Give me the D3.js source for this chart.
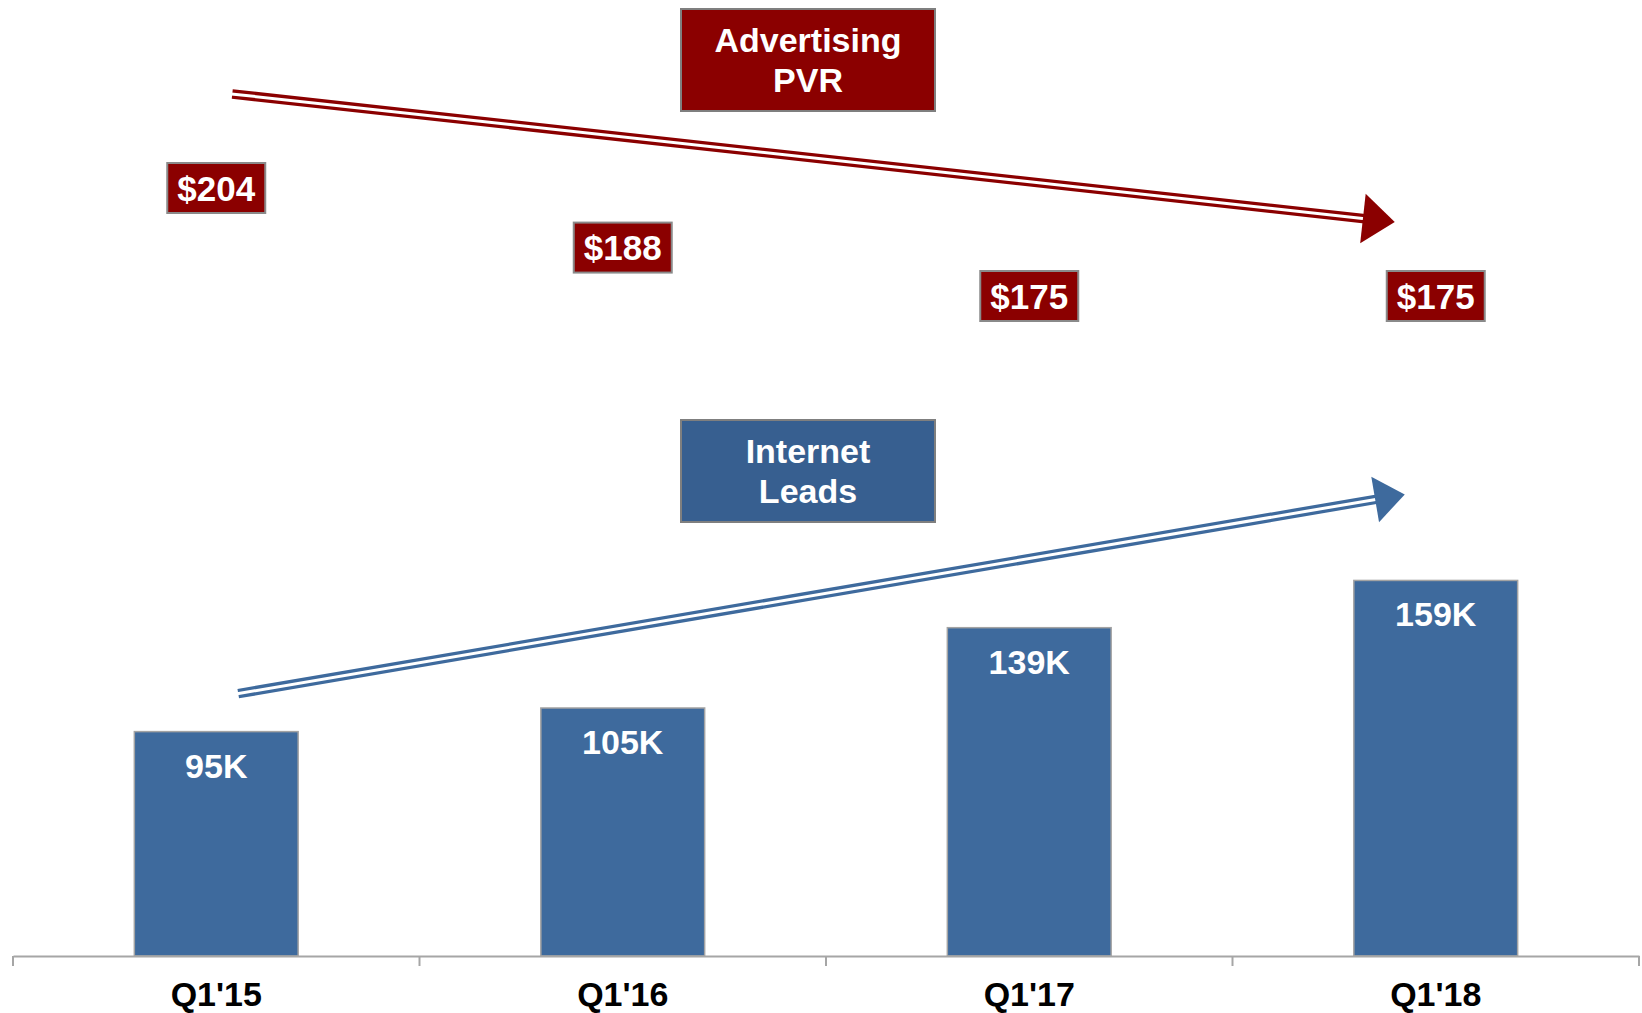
<!DOCTYPE html>
<html>
<head>
<meta charset="utf-8">
<script src="https://cdn.jsdelivr.net/npm/d3@7"></script>
<style>
  body { margin: 0; background: #fff; }
  text { font-family: "Liberation Sans", Arial, sans-serif; font-weight: bold; }
</style>
</head>
<body>
<div id="root"></div>
<script>
var quarters = ["Q1'15", "Q1'16", "Q1'17", "Q1'18"]
var leads = [95, 105, 139, 159]            // internet leads, thousands
var leadLabels = ['95K', '105K', '139K', '159K']
var pvr = [204, 188, 175, 175]             // advertising PVR, $
var pvrLabels = ['$204', '$188', '$175', '$175']

var width = 1642, height = 1013
var red = '#8b0000', blue = '#3e6a9d', boxBlue = '#375f90'

var svg = d3.select('#root').append('svg')
    .attr('width', width)
    .attr('height', height)

// scales
var X = d3.scaleBand()
    .domain(quarters)
    .range([13, 1639])
    .paddingInner(0.597)
    .paddingOuter(0.2985)
var Y = d3.scaleLinear().domain([0, 200]).range([956, 483.6])
var P = d3.scaleLinear().domain([175, 204]).range([296, 188])
var cx = function (q) { return X(q) + X.bandwidth() / 2 }

// bars
var bars = svg.append('g').attr('class', 'bars')
bars.selectAll('rect')
    .data(leads)
    .enter()
    .append('rect')
    .attr('x', function (d, i) { return X(quarters[i]) })
    .attr('y', function (d) { return Y(d) })
    .attr('width', X.bandwidth())
    .attr('height', function (d) { return Y(0) - Y(d) })
    .attr('fill', blue)
    .attr('stroke', '#a3a3a3')
    .attr('stroke-width', 1.5)
bars.selectAll('text')
    .data(leads)
    .enter()
    .append('text')
    .attr('x', function (d, i) { return cx(quarters[i]) })
    .attr('y', function (d) { return Y(d) + 46 })
    .attr('text-anchor', 'middle')
    .attr('fill', '#fff')
    .style('font-size', '34px')
    .text(function (d, i) { return leadLabels[i] })

// x axis
var axisG = svg.append('g')
    .attr('transform', 'translate(0,' + Y(0) + ')')
    .call(d3.axisBottom(X).tickSize(0).tickSizeOuter(0))
axisG.select('.domain').attr('stroke', '#a6a6a6').attr('stroke-width', 2)
axisG.selectAll('.tick text')
    .attr('y', 50).attr('dy', 0)
    .attr('fill', '#000')
    .style('font-size', '34px')
    .style('font-family', '"Liberation Sans", Arial, sans-serif')
    .style('font-weight', 'bold')
var bounds = quarters.map(function (q) { return X(q) - X.step() * X.paddingInner() / 2 })
bounds.push(X.range()[1])
axisG.selectAll('line.bound')
    .data(bounds)
    .enter()
    .append('line')
    .attr('class', 'bound')
    .attr('x1', function (d) { return d })
    .attr('x2', function (d) { return d })
    .attr('y1', 0)
    .attr('y2', 10)
    .attr('stroke', '#a6a6a6')
    .attr('stroke-width', 2)

// PVR labels
var pv = svg.append('g').attr('class', 'pvr')
var pg = pv.selectAll('g')
    .data(pvr)
    .enter()
    .append('g')
    .attr('transform', function (d, i) { return 'translate(' + cx(quarters[i]) + ',' + P(d) + ')' })
pg.append('rect')
    .attr('x', -49).attr('y', -25)
    .attr('width', 98).attr('height', 50)
    .attr('fill', red)
    .attr('stroke', '#8a8a8a')
    .attr('stroke-width', 2)
pg.append('text')
    .attr('y', 12.5)
    .attr('text-anchor', 'middle')
    .attr('fill', '#fff')
    .style('font-size', '35px')
    .text(function (d, i) { return pvrLabels[i] })

// title boxes
function titleBox(x, y, fill, lines) {
    var g = svg.append('g').attr('transform', 'translate(' + x + ',' + y + ')')
    g.append('rect')
        .attr('width', 254).attr('height', 102)
        .attr('fill', fill)
        .attr('stroke', '#7f7f7f')
        .attr('stroke-width', 2)
    g.selectAll('text')
        .data(lines)
        .enter()
        .append('text')
        .attr('x', 127)
        .attr('y', function (d, i) { return 43 + i * 39.5 })
        .attr('text-anchor', 'middle')
        .attr('fill', '#fff')
        .style('font-size', '34px')
        .text(function (d) { return d })
}
titleBox(681, 9, red, ['Advertising', 'PVR'])
titleBox(681, 420, boxBlue, ['Internet', 'Leads'])

// trend arrows (double line + head)
function trendArrow(x0, y0, x1, y1, color, headLen, headHalf) {
    var dx = x1 - x0, dy = y1 - y0, L = Math.sqrt(dx * dx + dy * dy)
    var ux = dx / L, uy = dy / L
    var bx = x1 - ux * headLen, by = y1 - uy * headLen
    var g = svg.append('g')
    g.append('line')
        .attr('x1', x0).attr('y1', y0).attr('x2', bx + ux * 2).attr('y2', by + uy * 2)
        .attr('stroke', color).attr('stroke-width', 9.5)
    g.append('line')
        .attr('x1', x0 - ux).attr('y1', y0 - uy).attr('x2', bx + ux * 2).attr('y2', by + uy * 2)
        .attr('stroke', '#fff').attr('stroke-width', 3)
    g.append('path')
        .attr('d', 'M' + x1 + ',' + y1 +
            'L' + (bx - uy * headHalf) + ',' + (by + ux * headHalf) +
            'L' + (bx + uy * headHalf) + ',' + (by - ux * headHalf) + 'Z')
        .attr('fill', color)
}
var first = cx(quarters[0]), last = cx(quarters[quarters.length - 1])
trendArrow(first + 16, P(pvr[0]) - 94, last - 41, P(pvr[3]) - 74, red, 32, 25)
trendArrow(first + 22, Y(leads[0]) - 38, last - 31, Y(leads[3]) - 86, blue, 30, 23)
</script>
</body>
</html>
